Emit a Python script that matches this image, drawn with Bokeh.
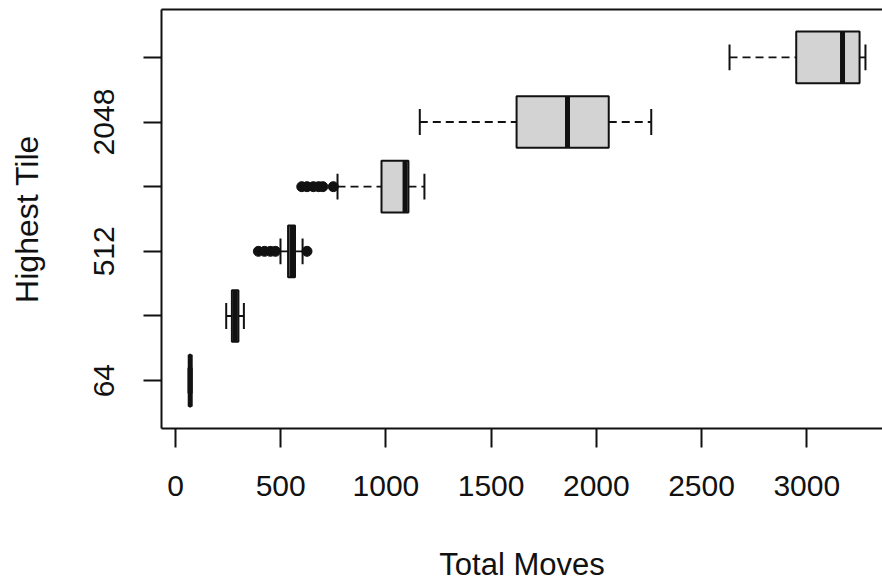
from bokeh.plotting import figure
from bokeh.models import Range1d, FixedTicker, LinearAxis, ColumnDataSource
from bokeh.embed import file_html
from bokeh.resources import INLINE

# ---- data ----
tiles = ["64", "256", "512", "1024", "2048", "4096"]
tick_labels = ["64", "", "512", "", "2048", ""]
lower_whisker = [62, 241, 499, 770, 1161, 2633]
q1 = [66, 268, 535, 979, 1621, 2950]
median = [70, 284, 553, 1091, 1863, 3170]
q3 = [73, 299, 568, 1107, 2059, 3251]
upper_whisker = [77, 325, 604, 1183, 2261, 3279]
outlier_tile = ["512", "512", "512", "512", "512",
                "1024", "1024", "1024", "1024", "1024", "1024"]
outlier_moves = [394, 423, 451, 475, 625,
                 600, 625, 655, 680, 700, 750]
x_ticks = [0, 500, 1000, 1500, 2000, 2500, 3000]

pos = [i + 1 for i in range(len(tiles))]
pos_of = {t: i + 1 for i, t in enumerate(tiles)}
half = 0.4
cap = 0.2

box_src = ColumnDataSource(dict(
    y=pos, q1=q1, q3=q3, med=median, lo=lower_whisker, hi=upper_whisker,
    y0=[v - half for v in pos], y1=[v + half for v in pos],
    c0=[v - cap for v in pos], c1=[v + cap for v in pos],
))
out_src = ColumnDataSource(dict(
    x=outlier_moves, y=[pos_of[t] for t in outlier_tile]))

FONT = "Liberation Sans"
INK = "#111111"

p = figure(width=882, height=584,
           x_range=Range1d(-66.5, 3360), y_range=Range1d(0.26, 6.74),
           output_backend="svg", toolbar_location=None,
           min_border_left=161, min_border_right=0,
           min_border_top=9, min_border_bottom=155,
           x_axis_label="Total Moves", y_axis_label="Highest Tile")
p.grid.visible = False
p.outline_line_color = None
p.background_fill_color = "white"
p.border_fill_color = "white"

# whiskers (dashed)
p.segment(x0="lo", y0="y", x1="q1", y1="y", source=box_src,
          line_color=INK, line_width=1.8, line_dash="8 5")
p.segment(x0="q3", y0="y", x1="hi", y1="y", source=box_src,
          line_color=INK, line_width=1.8, line_dash="8 5")
# caps
p.segment(x0="lo", y0="c0", x1="lo", y1="c1", source=box_src,
          line_color=INK, line_width=2)
p.segment(x0="hi", y0="c0", x1="hi", y1="c1", source=box_src,
          line_color=INK, line_width=2)
# boxes
p.hbar(y="y", left="q1", right="q3", height=2 * half, source=box_src,
       fill_color="#D3D3D3", line_color=INK, line_width=2)
# medians
p.segment(x0="med", y0="y0", x1="med", y1="y1", source=box_src,
          line_color=INK, line_width=5)
# outliers
p.scatter(x="x", y="y", source=out_src, size=10, marker="circle",
          fill_color=INK, line_color=INK)

# x axis
xa = p.xaxis[0]
xa.ticker = FixedTicker(ticks=x_ticks)
xa.minor_tick_line_color = None
xa.major_tick_in = 0
xa.major_tick_out = 19
xa.major_tick_line_width = 2
xa.major_tick_line_color = INK
xa.axis_line_width = 2
xa.axis_line_color = INK
xa.major_label_text_font = FONT
xa.major_label_text_font_size = "30px"
xa.major_label_text_color = INK
xa.major_label_standoff = 28
xa.axis_label_text_font = FONT
xa.axis_label_text_font_size = "31px"
xa.axis_label_text_font_style = "normal"
xa.axis_label_text_color = INK
xa.axis_label_standoff = 48

# y axis
ya = p.yaxis[0]
ya.ticker = FixedTicker(ticks=pos)
ya.major_label_overrides = {v: lab for v, lab in zip(pos, tick_labels)}
ya.major_label_orientation = "vertical"
ya.minor_tick_line_color = None
ya.major_tick_in = 0
ya.major_tick_out = 18
ya.major_tick_line_width = 2
ya.major_tick_line_color = INK
ya.axis_line_width = 2
ya.axis_line_color = INK
ya.major_label_text_font = FONT
ya.major_label_text_font_size = "30px"
ya.major_label_text_color = INK
ya.major_label_standoff = 29
ya.axis_label_text_font = FONT
ya.axis_label_text_font_size = "32px"
ya.axis_label_text_font_style = "normal"
ya.axis_label_text_color = INK
ya.axis_label_standoff = 47

# top border line (plot box, open on the right as in the reference)
top = LinearAxis(ticker=FixedTicker(ticks=[]), axis_line_width=2,
                 axis_line_color=INK, major_tick_line_color=None,
                 minor_tick_line_color=None, major_label_text_font_size="0px")
p.add_layout(top, "above")

open("out.html", "w").write(file_html(p, INLINE))
